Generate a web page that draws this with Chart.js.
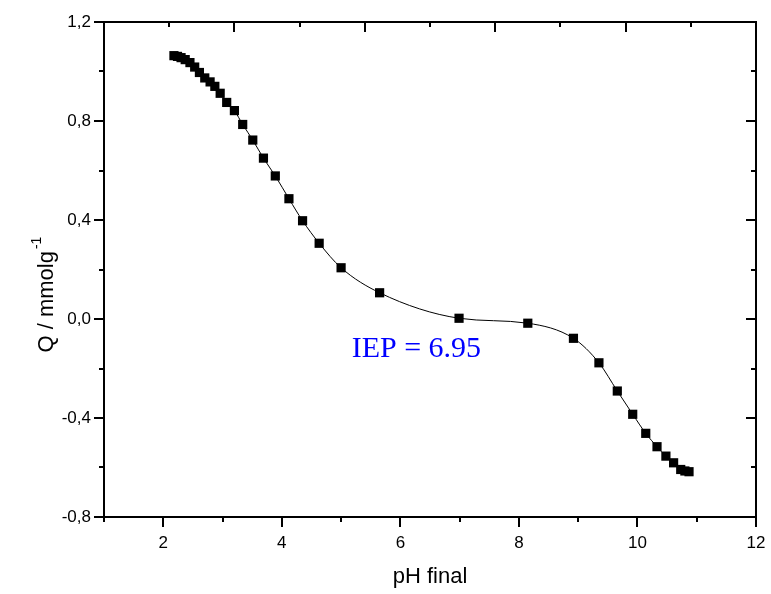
<!DOCTYPE html>
<html>
<head>
<meta charset="utf-8">
<script src="https://cdn.jsdelivr.net/npm/chart.js@4/dist/chart.umd.min.js"></script>
<style>
  html, body { margin: 0; padding: 0; background: #fff; }
</style>
</head>
<body>
<canvas id="qChart" width="771" height="594"></canvas>
<script>
// Surface charge vs final pH
const phFinal = [
    2.18, 2.24, 2.30, 2.37, 2.45, 2.53, 2.61, 2.70, 2.79, 2.87,
    2.96, 3.07, 3.20, 3.34, 3.51, 3.69, 3.89, 4.12, 4.35, 4.63,
    5.00, 5.65, 6.99, 8.15, 8.92, 9.35, 9.66, 9.92, 10.14, 10.33,
    10.48, 10.61, 10.73, 10.80, 10.87
];
const charge = [
    1.064, 1.061, 1.056, 1.048, 1.036, 1.018, 0.996, 0.974, 0.958, 0.940,
    0.912, 0.875, 0.842, 0.786, 0.723, 0.650, 0.578, 0.486, 0.397, 0.306,
    0.207, 0.106, 0.003, -0.017, -0.078, -0.177, -0.291, -0.385, -0.462, -0.516,
    -0.554, -0.581, -0.608, -0.614, -0.617
];

// Axis ticks
const xTickValues = [1, 2, 3, 4, 5, 6, 7, 8, 9, 10, 11, 12];
const yTickValues = [-0.8, -0.6, -0.4, -0.2, 0, 0.2, 0.4, 0.6, 0.8, 1.0, 1.2];
const topTickValues = [0, 1, 2, 3, 4, 5, 6, 7, 8, 9, 10]; // top frame uses its own spacing

const iepText = 'IEP = 6.95';
const iepAt = { x: 6.27, y: -0.153 };

const MAJOR_LEN = 10;
const MINOR_LEN = 5;

const isMajorY = v => Math.abs(v / 0.4 - Math.round(v / 0.4)) < 1e-6;
const fmtComma = v => v.toFixed(1).replace('.', ',');

const SANS = '"Liberation Sans", Arial, sans-serif';

// draws the box frame and the tick marks (Origin style)
const frameTicks = {
    id: 'frameTicks',
    afterDraw(chart) {
        const { ctx, chartArea: a, scales } = chart;
        const xs = scales.x, ys = scales.y, ts = scales.xTop;
        ctx.save();
        ctx.strokeStyle = '#000';
        ctx.lineWidth = 2;
        ctx.beginPath();
        xTickValues.forEach(v => {
            const px = Math.round(xs.getPixelForValue(v));
            const len = v % 2 === 0 ? MAJOR_LEN : MINOR_LEN;
            ctx.moveTo(px, a.bottom);
            ctx.lineTo(px, a.bottom + len);
        });
        topTickValues.forEach(v => {
            const px = Math.round(ts.getPixelForValue(v));
            const len = v % 2 === 0 ? MAJOR_LEN : MINOR_LEN;
            ctx.moveTo(px, a.top);
            ctx.lineTo(px, a.top + len);
        });
        yTickValues.forEach(v => {
            const py = Math.round(ys.getPixelForValue(v));
            const len = isMajorY(v) ? MAJOR_LEN : MINOR_LEN;
            ctx.moveTo(a.left, py);
            ctx.lineTo(a.left - len, py);
            ctx.moveTo(a.right, py);
            ctx.lineTo(a.right - len, py);
        });
        ctx.stroke();
        ctx.strokeRect(a.left, a.top, a.right - a.left, a.bottom - a.top);
        ctx.restore();
    }
};

// IEP note + y title with a real superscript
const extraText = {
    id: 'extraText',
    afterDatasetsDraw(chart) {
        const { ctx, scales, chartArea: a } = chart;
        ctx.save();
        ctx.font = '30px "Liberation Serif", "Times New Roman", serif';
        ctx.fillStyle = '#0000ff';
        ctx.textAlign = 'center';
        ctx.textBaseline = 'alphabetic';
        ctx.fillText(iepText, scales.x.getPixelForValue(iepAt.x), scales.y.getPixelForValue(iepAt.y));

        // y axis title, rotated
        ctx.fillStyle = '#000';
        ctx.translate(53, (a.top + a.bottom) / 2 + 83);
        ctx.rotate(-Math.PI / 2);
        ctx.textAlign = 'left';
        ctx.font = '22px ' + SANS;
        const main = 'Q / mmolg';
        ctx.fillText(main, 0, 0);
        const w = ctx.measureText(main).width;
        ctx.font = '14px ' + SANS;
        ctx.fillText('-1', w + 2, -12);
        ctx.restore();
    }
};

new Chart(document.getElementById('qChart'), {
    type: 'line',
    data: {
        datasets: [{
            data: phFinal.map((x, i) => ({ x: x, y: charge[i] })),
            borderColor: '#000',
            borderWidth: 1,
            cubicInterpolationMode: 'monotone',
            pointStyle: 'rect',
            pointRadius: 6.5,
            pointBackgroundColor: '#000',
            pointBorderWidth: 0,
            fill: false
        }]
    },
    options: {
        responsive: false,
        animation: false,
        layout: { padding: { top: 22, right: 15, left: 0, bottom: 0 } },
        plugins: {
            legend: { display: false },
            tooltip: { enabled: false }
        },
        scales: {
            x: {
                type: 'linear',
                position: 'bottom',
                min: 1,
                max: 12,
                afterBuildTicks: s => { s.ticks = xTickValues.map(v => ({ value: v })); },
                afterFit: s => { s.height = 77; s.paddingLeft = 0; s.paddingRight = 0; },
                grid: { display: false, drawTicks: false },
                border: { display: false },
                ticks: {
                    color: '#000',
                    font: { family: SANS, size: 17 },
                    padding: 16,
                    maxRotation: 0,
                    autoSkip: false,
                    callback: v => (v % 2 === 0 ? String(v) : '')
                },
                title: {
                    display: true,
                    text: 'pH final',
                    color: '#000',
                    font: { family: SANS, size: 22 },
                    padding: { top: 0, bottom: 4 }
                }
            },
            xTop: {
                type: 'linear',
                position: 'top',
                display: false,
                min: 0,
                max: 10
            },
            y: {
                type: 'linear',
                min: -0.8,
                max: 1.2,
                afterBuildTicks: s => { s.ticks = yTickValues.map(v => ({ value: v })); },
                afterFit: s => { s.width = 104; s.paddingTop = 0; s.paddingBottom = 0; },
                grid: { display: false, drawTicks: false },
                border: { display: false },
                ticks: {
                    color: '#000',
                    font: { family: SANS, size: 17 },
                    padding: 13,
                    autoSkip: false,
                    callback: v => (isMajorY(v) ? fmtComma(v) : '')
                }
            }
        }
    },
    plugins: [frameTicks, extraText]
});
</script>
</body>
</html>
